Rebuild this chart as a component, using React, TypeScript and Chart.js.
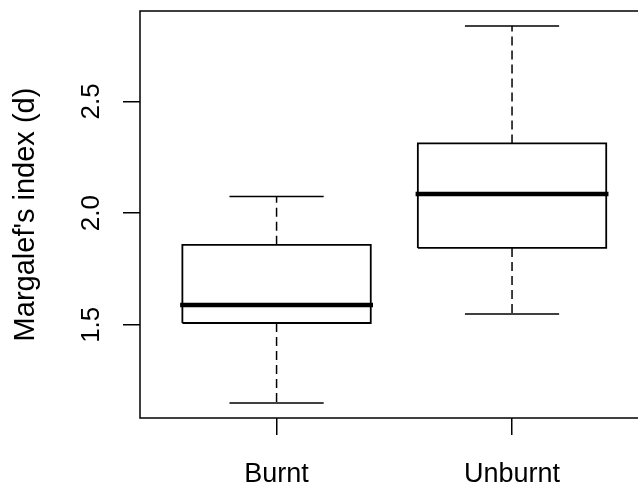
import React, { useEffect, useRef } from "react";
import { Chart, registerables } from "chart.js";

Chart.register(...registerables);

const categories = ["Burnt", "Unburnt"];
const whiskerLow = [1.15, 1.548];
const q1 = [1.508, 1.844];
const median = [1.589, 2.085];
const q3 = [1.858, 2.312];
const whiskerHigh = [2.074, 2.838];
const yTicks = [1.5, 2.0, 2.5];
const yMin = 1.0825;
const yMax = 2.905;
const xMin = 0.42;
const xMax = 2.58;

const BOX_HALF = 0.4;
const CAP_HALF = 0.2;
const FONT = "'Liberation Sans', Arial, sans-serif";

const framePlugin = {
  id: "frame",
  afterDraw(chart: any) {
    const { ctx, chartArea } = chart;
    ctx.save();
    ctx.strokeStyle = "#000";
    ctx.lineWidth = 1.5;
    ctx.strokeRect(chartArea.left, chartArea.top, chartArea.right - chartArea.left, chartArea.bottom - chartArea.top);
    ctx.restore();
  },
};

function seg(points: { x: number; y: number }[], width: number, dash: number[] = [], cap: any = "butt") {
  return {
    type: "scatter" as const,
    data: points,
    showLine: true,
    borderColor: "#000",
    backgroundColor: "#000",
    borderWidth: width,
    borderDash: dash,
    borderCapStyle: cap,
    borderJoinStyle: "miter",
    pointRadius: 0,
    fill: false,
    tension: 0,
  };
}

export default function App() {
  const ref = useRef<HTMLCanvasElement>(null);
  useEffect(() => {
    const datasets: any[] = [];
    categories.forEach((_, i) => {
      const x = i + 1;
      // whiskers (dashed)
      datasets.push(seg([{ x, y: q3[i] }, { x, y: whiskerHigh[i] }], 1.5, [9, 5]));
      datasets.push(seg([{ x, y: q1[i] }, { x, y: whiskerLow[i] }], 1.5, [9, 5]));
      // caps
      datasets.push(seg([{ x: x - CAP_HALF, y: whiskerHigh[i] }, { x: x + CAP_HALF, y: whiskerHigh[i] }], 1.5));
      datasets.push(seg([{ x: x - CAP_HALF, y: whiskerLow[i] }, { x: x + CAP_HALF, y: whiskerLow[i] }], 1.5));
      // box
      datasets.push(
        seg(
          [
            { x: x - BOX_HALF, y: q1[i] },
            { x: x + BOX_HALF, y: q1[i] },
            { x: x + BOX_HALF, y: q3[i] },
            { x: x - BOX_HALF, y: q3[i] },
            { x: x - BOX_HALF, y: q1[i] },
          ],
          1.8
        )
      );
      // median
      datasets.push(seg([{ x: x - BOX_HALF, y: median[i] }, { x: x + BOX_HALF, y: median[i] }], 4.5, [], "square"));
    });

    const chart = new Chart(ref.current!, {
      type: "scatter",
      data: { datasets },
      plugins: [framePlugin],
      options: {
        animation: false,
        responsive: false,
        devicePixelRatio: 1,
        layout: { padding: { left: 0, top: 11, right: 11.4, bottom: 0 } },
        plugins: { legend: { display: false }, tooltip: { enabled: false }, title: { display: false } },
        scales: {
          x: {
            type: "linear",
            min: xMin,
            max: xMax,
            afterBuildTicks: (s: any) => {
              s.ticks = categories.map((_, i) => ({ value: i + 1 }));
            },
            afterFit: (s: any) => {
              s.height = 69;
              s.paddingLeft = 0;
              s.paddingRight = 0;
            },
            grid: { display: true, drawOnChartArea: false, drawTicks: true, tickLength: 17, color: "#000", lineWidth: 1.5 },
            border: { display: false },
            ticks: {
              color: "#000",
              font: { family: FONT, size: 27 },
              padding: 23,
              maxRotation: 0,
              minRotation: 0,
              callback: (v: any) => categories[Math.round(v) - 1] ?? "",
            },
          },
          y: {
            type: "linear",
            min: yMin,
            max: yMax,
            afterBuildTicks: (s: any) => {
              s.ticks = yTicks.map((v) => ({ value: v }));
            },
            afterFit: (s: any) => {
              s.width = 140;
              s.paddingTop = 0;
              s.paddingBottom = 0;
            },
            grid: { display: true, drawOnChartArea: false, drawTicks: true, tickLength: 17, color: "#000", lineWidth: 1.5 },
            border: { display: false },
            title: {
              display: true,
              text: "Margalef's index (d)",
              color: "#000",
              font: { family: FONT, size: 29 },
              padding: { top: 8.5, bottom: 0 },
            },
            ticks: {
              color: "#000",
              font: { family: FONT, size: 26 },
              padding: 13,
              minRotation: 90,
              maxRotation: 90,
              crossAlign: "center",
              callback: (v: any) => Number(v).toFixed(1),
            },
          },
        },
      },
    });
    return () => chart.destroy();
  }, []);

  return (
    <div style={{ position: "fixed", left: 0, top: 0, width: 638, height: 487, overflow: "hidden", background: "#fff" }}>
      <canvas ref={ref} width={660} height={487} style={{ display: "block" }} />
    </div>
  );
}
